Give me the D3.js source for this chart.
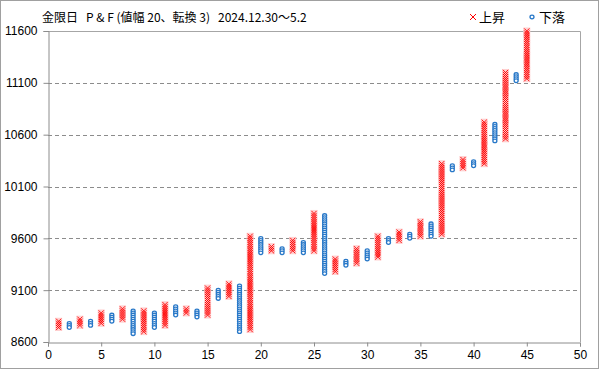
<!DOCTYPE html>
<html>
<head>
<meta charset="utf-8">
<script src="https://cdn.jsdelivr.net/npm/d3@7"></script>
<style>
  body { margin: 0; background: #fff; }
  svg { display: block; }
</style>
</head>
<body>
<svg id="chart"></svg>
<script>
// P&F columns: odd columns are X (rise), even are O (fall)
const colIndex = d3.range(1, 46);
const colLow = [8740, 8740, 8760, 8760, 8780, 8800, 8820, 8680, 8700, 8740,
    8760, 8860, 8880, 8840, 8860, 9020, 9040, 8700, 8720, 9460,
    9480, 9460, 9480, 9460, 9480, 9260, 9280, 9340, 9360, 9400,
    9420, 9560, 9580, 9600, 9620, 9620, 9640, 10260, 10280, 10300,
    10320, 10540, 10560, 11120, 11140];
const colHigh = [8800, 8780, 8820, 8800, 8880, 8860, 8920, 8900, 8900, 8880,
    8960, 8940, 8920, 8900, 9120, 9100, 9160, 9140, 9620, 9600,
    9520, 9500, 9580, 9560, 9840, 9820, 9400, 9380, 9500, 9480,
    9620, 9600, 9660, 9640, 9760, 9740, 10320, 10300, 10360, 10340,
    10720, 10700, 11200, 11180, 11600];
const boxSize = 20;
const yTicks = [8600, 9100, 9600, 10100, 10600, 11100, 11600];
const xTicks = [0, 5, 10, 15, 20, 25, 30, 35, 40, 45, 50];
const titleText = "金限日   P & F (値幅 20、転換 3)   2024.12.30〜5.2";
const legendNames = ["上昇", "下落"];

const W = 599, H = 369;
const margin = { top: 31, right: 19, bottom: 27, left: 48 };

const svg = d3.select("#chart").attr("width", W).attr("height", H);

// outer frame
svg.append("rect")
    .attr("x", 0.5).attr("y", 0.5)
    .attr("width", W - 1).attr("height", H - 1)
    .attr("fill", "#fff").attr("stroke", "#a0a0a0");

const x = d3.scaleLinear().domain([0, 50]).range([margin.left, W - margin.right]);
const y = d3.scaleLinear().domain([8600, 11600]).range([H - margin.bottom, margin.top]);

// grid lines
svg.append("g")
    .selectAll("line")
    .data(yTicks.slice(1, -1))
    .join("line")
    .attr("x1", x(0)).attr("x2", x(50))
    .attr("y1", d => Math.round(y(d)) + 0.5)
    .attr("y2", d => Math.round(y(d)) + 0.5)
    .attr("stroke", "#8c8c8c")
    .attr("stroke-dasharray", "4,3");

// plot border top/right
svg.append("path")
    .attr("d", `M${x(0)},${Math.round(y(11600)) + 0.5}H${Math.round(x(50)) + 0.5}V${Math.round(y(8600))}`)
    .attr("fill", "none")
    .attr("stroke", "#a6a6a6");

// axes
const yAxis = svg.append("g")
    .attr("transform", `translate(${Math.round(x(0)) + 0.5},0)`)
    .call(d3.axisLeft(y).tickValues(yTicks).tickFormat(d3.format("d")).tickSize(5).tickPadding(6));
const xAxis = svg.append("g")
    .attr("transform", `translate(0,${Math.round(y(8600)) + 0.5})`)
    .call(d3.axisBottom(x).tickValues(xTicks).tickSize(4).tickPadding(4));

[yAxis, xAxis].forEach(a => {
    a.select(".domain").attr("stroke", "#8c8c8c");
    a.selectAll(".tick line").attr("stroke", "#8c8c8c");
    a.selectAll("text")
        .attr("fill", "#000")
        .style("font-family", "'Liberation Sans', Arial, sans-serif")
        .style("font-size", "12px");
});

// build box list
const boxes = [];
colIndex.forEach((c, i) => {
    const isX = c % 2 === 1;
    for (let v = colLow[i]; v <= colHigh[i]; v += boxSize) {
        boxes.push({ col: c, v: v, isX: isX });
    }
});

const plot = svg.append("g");

// pink halo behind X columns
plot.selectAll("rect.halo")
    .data(colIndex.filter(c => c % 2 === 1))
    .join("rect")
    .attr("class", "halo")
    .attr("x", c => x(c) - 3.5)
    .attr("width", 7)
    .attr("y", c => y(colHigh[c - 1]) - 3.5)
    .attr("height", c => y(colLow[c - 1]) - y(colHigh[c - 1]) + 7)
    .attr("fill", "#ffd0d0");

const s = 2.6;
plot.selectAll("path.xmark")
    .data(boxes.filter(b => b.isX))
    .join("path")
    .attr("class", "xmark")
    .attr("d", b => {
        const cx = x(b.col), cy = y(b.v);
        return `M${cx - s},${cy - s}L${cx + s},${cy + s}M${cx - s},${cy + s}L${cx + s},${cy - s}`;
    })
    .attr("stroke", "#ff0000")
    .attr("stroke-width", 0.9)
    .attr("fill", "none");

plot.selectAll("ellipse.omark")
    .data(boxes.filter(b => !b.isX).sort((a, b) => b.v - a.v))
    .join("ellipse")
    .attr("class", "omark")
    .attr("cx", b => x(b.col))
    .attr("cy", b => y(b.v))
    .attr("rx", 2)
    .attr("ry", 1.8)
    .attr("fill", "#fff")
    .attr("stroke", "#2878c8")
    .attr("stroke-width", 1.3);

// title
svg.append("text")
    .attr("x", 42).attr("y", 22)
    .style("font-family", "'Noto Sans CJK JP', sans-serif")
    .style("font-size", "12px")
    .attr("fill", "#000")
    .attr("xml:space", "preserve")
    .text(titleText);

// legend
const lg = svg.append("g");
lg.append("path")
    .attr("d", "M470,14L476,20M470,20L476,14")
    .attr("stroke", "#ff0000").attr("fill", "none");
lg.append("text").attr("x", 479).attr("y", 22).text(legendNames[0]);
lg.append("ellipse")
    .attr("cx", 532).attr("cy", 17).attr("rx", 2).attr("ry", 1.8)
    .attr("fill", "#fff").attr("stroke", "#2878c8").attr("stroke-width", 1.3);
lg.append("text").attr("x", 539).attr("y", 22).text(legendNames[1]);
lg.selectAll("text")
    .style("font-family", "'Noto Sans CJK JP', sans-serif")
    .style("font-size", "13px")
    .attr("fill", "#000");
</script>
</body>
</html>
